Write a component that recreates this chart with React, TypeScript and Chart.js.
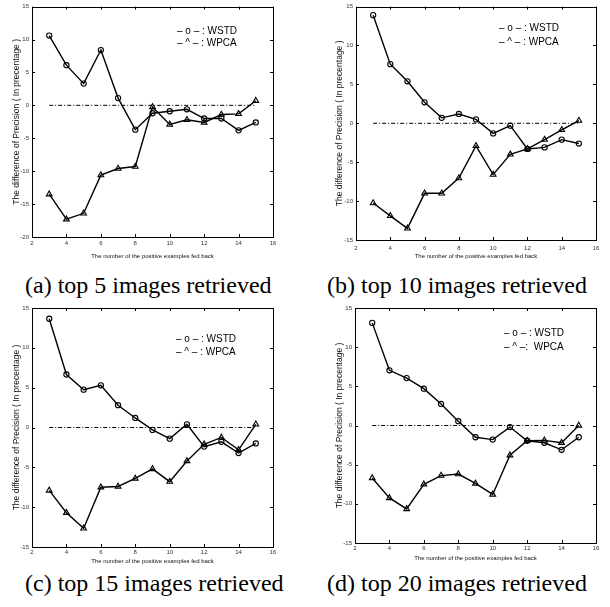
import React, { useEffect, useRef } from 'react';
import { Chart, registerables } from 'chart.js';

Chart.register(...registerables);

// ---------- data ----------
const feedback = [3, 4, 5, 6, 7, 8, 9, 10, 11, 12, 13, 14, 15];
const xTickValues = [2, 4, 6, 8, 10, 12, 14, 16];

const wstdTop5 = [10.6, 6.1, 3.3, 8.4, 1.1, -3.7, -1.2, -0.9, -0.6, -2.0, -2.0, -3.8, -2.6];
const wpcaTop5 = [-13.5, -17.3, -16.4, -10.6, -9.6, -9.3, -0.25, -2.9, -2.2, -2.6, -1.4, -1.3, 0.7];

const wstdTop10 = [13.9, 7.6, 5.4, 2.7, 0.7, 1.2, 0.5, -1.3, -0.3, -3.3, -3.1, -2.1, -2.6];
const wpcaTop10 = [-10.25, -11.9, -13.5, -9.0, -9.0, -7.05, -2.9, -6.6, -4.0, -3.3, -2.1, -0.85, 0.35];

const wstdTop15 = [13.65, 6.65, 4.75, 5.3, 2.8, 1.2, -0.3, -1.4, 0.4, -2.4, -1.8, -3.2, -2.0];
const wpcaTop15 = [-7.9, -10.7, -12.65, -7.5, -7.4, -6.4, -5.2, -6.8, -4.2, -2.1, -1.25, -2.8, 0.4];

const wstdTop20 = [13.1, 7.05, 6.05, 4.7, 2.75, 0.55, -1.5, -1.8, -0.2, -1.95, -2.2, -3.1, -1.5];
const wpcaTop20 = [-6.7, -9.25, -10.65, -7.5, -6.4, -6.2, -7.4, -8.8, -3.8, -1.95, -1.9, -2.2, 0.0];

const zeroLineX = [3, 15];
const zeroLineY = [0, 0];

const captions = [
  '(a) top 5 images retrieved',
  '(b) top 10 images retrieved',
  '(c) top 15 images retrieved',
  '(d) top 20 images retrieved',
];
const legendWSTD = ['– o – : WSTD', '– o – : WSTD', '– o – : WSTD', '– o – : WSTD'];
const legendWPCA = ['– ^ – : WPCA', '– ^ – : WPCA', '– ^ – : WPCA', '– ^ –:  WPCA'];
const yMins = [-20, -15, -15, -15];
const yMaxs = [15, 15, 15, 15];
const xTitle = 'The number of the positive examples fed back';
const yTitle = 'The difference of Precision ( In precentage )';

const seriesWSTD = [wstdTop5, wstdTop10, wstdTop15, wstdTop20];
const seriesWPCA = [wpcaTop5, wpcaTop10, wpcaTop15, wpcaTop20];

// ---------- layout (page pixels) ----------
type Geo = {
  left: number; top: number; w: number; h: number;
  yAxisW: number; xAxisH: number; padTop: number; padRight: number;
  yTickPad: number; xTickPad: number; yTitlePad: number;
  legX: number; legY1: number; legY2: number;
};
const geos: Geo[] = [
  { left: 0, top: 0, w: 305, h: 260, yAxisW: 32, xAxisH: 23, padTop: 2, padRight: 32, yTickPad: 3, xTickPad: 3, yTitlePad: 12, legX: 177, legY1: 31, legY2: 43 },
  { left: 305, top: 0, w: 305, h: 260, yAxisW: 51, xAxisH: 20, padTop: 2, padRight: 14, yTickPad: 3, xTickPad: 5, yTitlePad: 30, legX: 499, legY1: 28, legY2: 42 },
  { left: 0, top: 300, w: 305, h: 265, yAxisW: 32, xAxisH: 18, padTop: 8, padRight: 32, yTickPad: 3, xTickPad: 2, yTitlePad: 12, legX: 176, legY1: 339, legY2: 352 },
  { left: 305, top: 300, w: 305, h: 262, yAxisW: 50, xAxisH: 19, padTop: 8, padRight: 14, yTickPad: 3, xTickPad: 2, yTitlePad: 30, legX: 504, legY1: 333, legY2: 347 },
];
const captionPos = [
  { left: 25, top: 272 },
  { left: 327, top: 272 },
  { left: 25, top: 570 },
  { left: 327, top: 570 },
];

const SANS = "'Liberation Sans', Arial, Helvetica, sans-serif";

const matlabBox = {
  id: 'matlabBox',
  afterDraw(chart: any, _args: any, opts: any) {
    const { ctx, chartArea, scales } = chart;
    const { left, right, top, bottom } = chartArea;
    const x = scales.x;
    const y = scales.y;
    ctx.save();
    ctx.strokeStyle = '#000';
    ctx.lineWidth = 1;
    ctx.strokeRect(Math.round(left) + 0.5, Math.round(top) + 0.5, Math.round(right - left), Math.round(bottom - top));
    const tl = 3;
    ctx.beginPath();
    x.ticks.forEach((t: any) => {
      const px = Math.round(x.getPixelForValue(t.value)) + 0.5;
      ctx.moveTo(px, bottom); ctx.lineTo(px, bottom - tl);
      ctx.moveTo(px, top); ctx.lineTo(px, top + tl);
    });
    y.ticks.forEach((t: any) => {
      const py = Math.round(y.getPixelForValue(t.value)) + 0.5;
      ctx.moveTo(left, py); ctx.lineTo(left + tl, py);
      ctx.moveTo(right, py); ctx.lineTo(right - tl, py);
    });
    ctx.stroke();
    ctx.fillStyle = '#000';
    ctx.font = `10px ${SANS}`;
    ctx.textBaseline = 'middle';
    ctx.textAlign = 'left';
    ctx.fillText(opts.l1, opts.lx, opts.ly1);
    ctx.fillText(opts.l2, opts.lx, opts.ly2);
    ctx.restore();
  },
};

function Panel({ idx }: { idx: number }) {
  const ref = useRef<HTMLCanvasElement>(null);
  const g = geos[idx];
  useEffect(() => {
    if (!ref.current) return;
    const toPts = (ys: number[]) => feedback.map((x, i) => ({ x, y: ys[i] }));
    const chart = new Chart(ref.current, {
      type: 'line',
      data: {
        datasets: [
          {
            label: 'zero',
            data: zeroLineX.map((x, i) => ({ x, y: zeroLineY[i] })),
            borderColor: '#000',
            borderWidth: 1,
            borderDash: [4, 2, 1, 2],
            pointRadius: 0,
            fill: false,
          },
          {
            label: 'WSTD',
            data: toPts(seriesWSTD[idx]),
            borderColor: '#000',
            borderWidth: 1.4,
            pointStyle: 'circle',
            pointRadius: 2.6,
            pointBorderWidth: 1.1,
            pointBorderColor: '#000',
            pointBackgroundColor: 'rgba(255,255,255,0)',
            fill: false,
            tension: 0,
          },
          {
            label: 'WPCA',
            data: toPts(seriesWPCA[idx]),
            borderColor: '#000',
            borderWidth: 1.4,
            pointStyle: 'triangle',
            pointRadius: 3.3,
            pointBorderWidth: 1.1,
            pointBorderColor: '#000',
            pointBackgroundColor: 'rgba(255,255,255,0)',
            fill: false,
            tension: 0,
          },
        ],
      },
      options: {
        animation: false,
        responsive: false,
        devicePixelRatio: 1,
        layout: { padding: { left: 0, top: g.padTop, right: g.padRight, bottom: 0 } },
        plugins: {
          legend: { display: false },
          tooltip: { enabled: false },
          matlabBox: {
            l1: legendWSTD[idx],
            l2: legendWPCA[idx],
            lx: g.legX - g.left,
            ly1: g.legY1 - g.top,
            ly2: g.legY2 - g.top,
          },
        } as any,
        scales: {
          x: {
            type: 'linear',
            min: xTickValues[0],
            max: xTickValues[xTickValues.length - 1],
            afterBuildTicks: (s: any) => { s.ticks = xTickValues.map((v) => ({ value: v })); },
            grid: { display: false, drawTicks: false },
            border: { display: false },
            ticks: { font: { size: 6, family: SANS }, color: '#333', padding: g.xTickPad, autoSkip: false, maxRotation: 0 },
            title: { display: true, text: xTitle, font: { size: 6, family: SANS }, color: '#111', padding: 0 },
            afterFit: (s: any) => { s.height = g.xAxisH; },
          },
          y: {
            type: 'linear',
            min: yMins[idx],
            max: yMaxs[idx],
            ticks: { stepSize: 5, font: { size: 6, family: SANS }, color: '#333', padding: g.yTickPad },
            grid: { display: false, drawTicks: false },
            border: { display: false },
            title: { display: true, text: yTitle, font: { size: 8.5, family: SANS }, color: '#111', padding: { top: g.yTitlePad, bottom: 0 } },
            afterFit: (s: any) => { s.width = g.yAxisW; },
          },
        },
      },
      plugins: [matlabBox],
    });
    return () => chart.destroy();
  }, [idx]);
  return (
    <canvas
      ref={ref}
      width={g.w}
      height={g.h}
      style={{ position: 'absolute', left: g.left, top: g.top, width: g.w, height: g.h }}
    />
  );
}

export default function App() {
  return (
    <div style={{ position: 'fixed', left: 0, top: 0, width: 610, height: 607, background: '#fff', overflow: 'hidden' }}>
      {[0, 1, 2, 3].map((i) => (
        <Panel key={i} idx={i} />
      ))}
      {captions.map((c, i) => (
        <div
          key={c}
          style={{
            position: 'absolute',
            left: captionPos[i].left,
            top: captionPos[i].top,
            fontFamily: "'Liberation Serif', 'Times New Roman', serif",
            fontSize: 24,
            lineHeight: '26px',
            whiteSpace: 'nowrap',
            color: '#000',
          }}
        >
          {c}
        </div>
      ))}
    </div>
  );
}
